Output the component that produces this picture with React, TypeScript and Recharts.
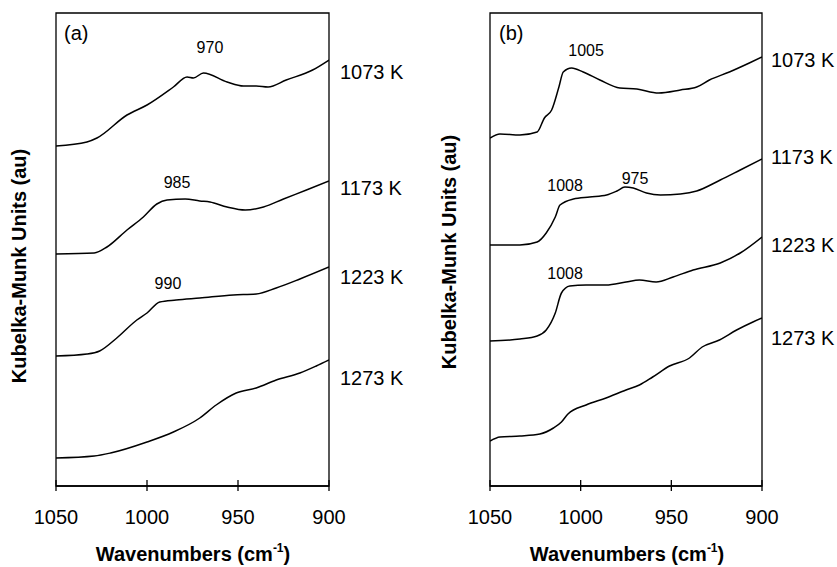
import React from 'react';
import { LineChart, Line, XAxis, YAxis, ReferenceArea, ReferenceDot } from 'recharts';

const FONT = '"Liberation Sans", Arial, Helvetica, sans-serif';

// x ticks (cm-1), axis runs high -> low
const WN_TICKS = [1050, 1000, 950, 900];
const Y_DOMAIN = [0, 473];

// panel (a) spectra: wavenumbers and Kubelka-Munk values (offset, au)
const A1073_WN = [1050, 1033, 1027.5, 1011, 1000, 985.5, 978, 974.5, 969, 956, 947, 940, 933.5, 923.5, 909, 900];
const A1073_KM = [340, 344, 348, 371, 381, 399, 409, 408, 413, 404, 400, 400, 399, 406, 416, 426];
const A1173_WN = [1050, 1029, 1022, 1011, 1002, 994.6, 989, 979, 971, 965.4, 956, 946, 936, 925, 912.4, 900];
const A1173_KM = [232, 233, 239, 256, 269, 282, 286, 287, 285, 284, 279, 276, 279, 287, 296, 305];
const A1223_WN = [1050, 1033, 1026, 1016.6, 1005.6, 1000, 993, 984, 971, 952.6, 940, 929, 916, 900];
const A1223_KM = [130, 132, 135, 148, 166, 173, 184, 186, 188, 191, 192, 198, 207, 219];
const A1273_WN = [1050, 1029, 1020, 1000, 985.5, 971, 962, 951, 940, 929, 916, 907, 900];
const A1273_KM = [28, 30, 33, 44, 54, 68, 81, 93, 98, 106, 113, 120, 126];

// panel (b) spectra
const B1073_WN = [1050, 1044.5, 1033.5, 1024, 1020, 1016, 1012, 1009.6, 1005, 998.6, 989.4, 978.4, 969, 957, 945, 936, 929, 918, 907, 900];
const B1073_KM = [348, 352, 351, 354, 368, 376, 399, 414, 418, 414, 406, 398, 397, 393, 396, 399, 406, 414, 423, 429];
const B1173_WN = [1050, 1033.5, 1024, 1019, 1014, 1011.4, 1004, 995, 985.7, 980, 975.6, 971, 963.7, 956, 945, 936, 923, 912, 900];
const B1173_KM = [241, 241, 244, 253, 269, 281, 287, 289, 291, 295, 299, 298, 293, 291, 292, 295, 306, 316, 327];
const B1223_WN = [1050, 1033.5, 1024, 1019, 1014, 1010.6, 1006, 997, 986, 975, 967.6, 958.4, 949, 938, 923, 912, 900];
const B1223_KM = [145, 147, 150, 156, 173, 193, 200, 201, 201, 204, 206, 204, 209, 216, 223, 233, 249];
const B1273_WN = [1050, 1044.5, 1033.5, 1022.5, 1015, 1010.6, 1007, 997, 986, 975, 967.6, 960.3, 951, 940, 933, 923.5, 914, 905, 900];
const B1273_KM = [45, 49, 50, 52, 58, 64, 72, 81, 88, 96, 101, 109, 120, 128, 139, 146, 156, 164, 168];

const TEMPS = ['1073 K', '1173 K', '1223 K', '1273 K'];
const A_TEMP_Y = [414, 298, 209, 108];
const B_TEMP_Y = [426, 329, 241, 148];

// peak labels: text, wavenumber, height
const A_PEAKS = ['970', '985', '990'];
const A_PEAK_WN = [965.4, 983.5, 988.5];
const A_PEAK_Y = [439, 304, 203];
const B_PEAKS = ['1005', '1008', '975', '1008'];
const B_PEAK_WN = [997, 1008.6, 970, 1008.6];
const B_PEAK_Y = [436, 301, 308, 213];

const zip = (wn: number[], km: number[]) => wn.map((w, i) => ({ wn: w, km: km[i] }));

const WnTick = (props: any) => {
  const { x, y, payload } = props;
  return (
    <g>
      <line x1={x} x2={x} y1={y - 6} y2={y + 5} stroke="#000" strokeWidth={1.3} />
      <text x={x} y={y + 38} textAnchor="middle" fontSize={20} fontFamily={FONT} fill="#000">
        {payload.value}
      </text>
    </g>
  );
};

type PanelProps = {
  left: number;
  width: number;
  margin: { top: number; left: number; right: number; bottom: number };
  series: { wn: number[]; km: number[] }[];
  tempY: number[];
  tempOffset: number;
  peaks: string[];
  peakWn: number[];
  peakY: number[];
};

function Panel({ left, width, margin, series, tempY, tempOffset, peaks, peakWn, peakY }: PanelProps) {
  return (
    <div style={{ position: 'absolute', left, top: 0 }}>
      <LineChart width={width} height={567} margin={margin}>
        <XAxis
          type="number"
          dataKey="wn"
          domain={[900, 1050]}
          reversed
          ticks={WN_TICKS}
          interval={0}
          tick={<WnTick />}
          tickLine={false}
          tickSize={0}
          tickMargin={0}
          height={81}
          axisLine={{ stroke: '#000', strokeWidth: 1.3 }}
          allowDataOverflow
        />
        <YAxis type="number" domain={Y_DOMAIN} hide allowDataOverflow />
        <ReferenceArea
          x1={1050}
          x2={900}
          y1={Y_DOMAIN[0]}
          y2={Y_DOMAIN[1]}
          fill="none"
          fillOpacity={0}
          stroke="#000"
          strokeWidth={1.3}
          ifOverflow="visible"
        />
        {series.map((s, i) => (
          <Line
            key={i}
            data={zip(s.wn, s.km)}
            dataKey="km"
            type="monotone"
            stroke="#000"
            strokeWidth={1.5}
            dot={false}
            isAnimationActive={false}
          />
        ))}
        {TEMPS.map((t, i) => (
          <ReferenceDot
            key={t}
            x={900}
            y={tempY[i]}
            r={1}
            fill="none"
            stroke="none"
            ifOverflow="visible"
            label={{ value: t, position: 'right', offset: tempOffset, fontSize: 20, fontFamily: FONT, fill: '#000' }}
          />
        ))}
        {peaks.map((p, i) => (
          <ReferenceDot
            key={'p' + i}
            x={peakWn[i]}
            y={peakY[i]}
            r={1}
            fill="none"
            stroke="none"
            ifOverflow="visible"
            label={{ value: p, position: 'center', fontSize: 16, fontFamily: FONT, fill: '#000' }}
          />
        ))}
      </LineChart>
    </div>
  );
}

const textStyle: React.CSSProperties = {
  position: 'absolute',
  fontFamily: FONT,
  color: '#000',
  whiteSpace: 'nowrap',
  lineHeight: '24px',
};

function XTitle({ cx }: { cx: number }) {
  return (
    <div style={{ ...textStyle, left: cx - 150, width: 300, top: 542, textAlign: 'center', fontSize: 20, fontWeight: 'bold' }}>
      Wavenumbers (cm<sup style={{ fontSize: 12, verticalAlign: 'top', lineHeight: '12px' }}>-1</sup>)
    </div>
  );
}

function YTitle({ cx, cy }: { cx: number; cy: number }) {
  return (
    <div
      style={{
        ...textStyle,
        left: cx - 150,
        top: cy - 12,
        width: 300,
        textAlign: 'center',
        fontSize: 20,
        fontWeight: 'bold',
        transform: 'rotate(-90deg)',
      }}
    >
      Kubelka-Munk Units (au)
    </div>
  );
}

export default function App() {
  return (
    <div style={{ position: 'absolute', left: 0, top: 0, width: 837, height: 567, background: '#fff', overflow: 'hidden' }}>
      <Panel
        left={0}
        width={420}
        margin={{ top: 13, left: 56, right: 91, bottom: 0 }}
        series={[
          { wn: A1073_WN, km: A1073_KM },
          { wn: A1173_WN, km: A1173_KM },
          { wn: A1223_WN, km: A1223_KM },
          { wn: A1273_WN, km: A1273_KM },
        ]}
        tempY={A_TEMP_Y}
        tempOffset={10}
        peaks={A_PEAKS}
        peakWn={A_PEAK_WN}
        peakY={A_PEAK_Y}
      />
      <Panel
        left={420}
        width={417}
        margin={{ top: 13, left: 70, right: 75, bottom: 0 }}
        series={[
          { wn: B1073_WN, km: B1073_KM },
          { wn: B1173_WN, km: B1173_KM },
          { wn: B1223_WN, km: B1223_KM },
          { wn: B1273_WN, km: B1273_KM },
        ]}
        tempY={B_TEMP_Y}
        tempOffset={8}
        peaks={B_PEAKS}
        peakWn={B_PEAK_WN}
        peakY={B_PEAK_Y}
      />
      <div style={{ ...textStyle, left: 64, top: 21, fontSize: 20 }}>(a)</div>
      <div style={{ ...textStyle, left: 499, top: 21, fontSize: 20 }}>(b)</div>
      <XTitle cx={193} />
      <XTitle cx={627} />
      <YTitle cx={19} cy={266} />
      <YTitle cx={449} cy={252} />
    </div>
  );
}
